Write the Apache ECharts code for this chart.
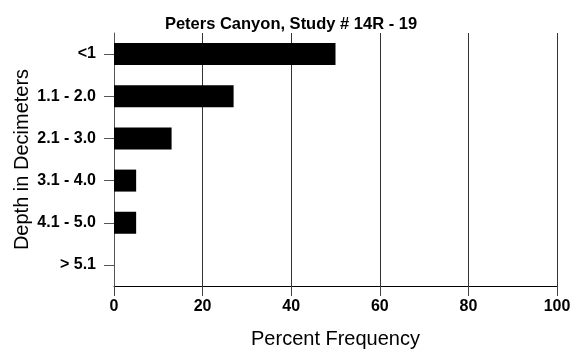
<!DOCTYPE html>
<html><head><meta charset="utf-8">
<script src="https://cdn.jsdelivr.net/npm/echarts@6/dist/echarts.min.js"></script>
<style>html,body{margin:0;padding:0;background:#fff}#c{width:573px;height:350px}</style>
</head><body><div id="c"></div>
<script>
const categories = ['<1', '1.1 - 2.0', '2.1 - 3.0', '3.1 - 4.0', '4.1 - 5.0', '> 5.1'];
const percentValues = [50, 27, 13, 5, 5, 0];
const xTicks = [0, 20, 40, 60, 80, 100];

const FONT = 'Liberation Sans, Arial, sans-serif';
const chart = echarts.init(document.getElementById('c'), null, {renderer: 'canvas'});
chart.setOption({
  animation: false,
  backgroundColor: '#fff',
  title: {
    text: 'Peters Canyon, Study # 14R - 19',
    left: 286, top: 11, textAlign: 'center',
    textStyle: {fontFamily: FONT, fontSize: 16.5, fontWeight: 'bold', color: '#000'}
  },
  grid: {left: 114, right: 16, top: 33, bottom: 64, containLabel: false, outerBoundsMode: 'none'},
  xAxis: {
    type: 'value', min: xTicks[0], max: xTicks[xTicks.length - 1], interval: 20,
    name: 'Percent Frequency', nameLocation: 'middle', nameGap: 43, nameMoveOverlap: false,
    nameTextStyle: {fontFamily: FONT, fontSize: 20, color: '#000'},
    axisLine: {show: true, lineStyle: {color: '#000', width: 1}},
    axisTick: {show: true, length: 10, lineStyle: {color: '#444'}},
    axisLabel: {margin: 13, fontFamily: FONT, fontSize: 16, fontWeight: 'bold', color: '#000'},
    splitLine: {show: true, lineStyle: {color: '#333', width: 1}}
  },
  yAxis: {
    type: 'category', data: categories, inverse: true,
    name: 'Depth in Decimeters', nameLocation: 'middle', nameGap: 82, nameRotate: 90, nameMoveOverlap: false,
    nameTextStyle: {fontFamily: FONT, fontSize: 20, color: '#000'},
    axisLine: {show: true, lineStyle: {color: '#555', width: 1}},
    axisTick: {show: true, alignWithLabel: true, length: 10, lineStyle: {color: '#555'}},
    axisLabel: {margin: 18, fontFamily: FONT, fontSize: 16, fontWeight: 'bold', color: '#000'},
    splitLine: {show: false}
  },
  series: [{
    type: 'bar', data: percentValues, barWidth: 22,
    itemStyle: {color: '#000'}
  }]
});
</script></body></html>
